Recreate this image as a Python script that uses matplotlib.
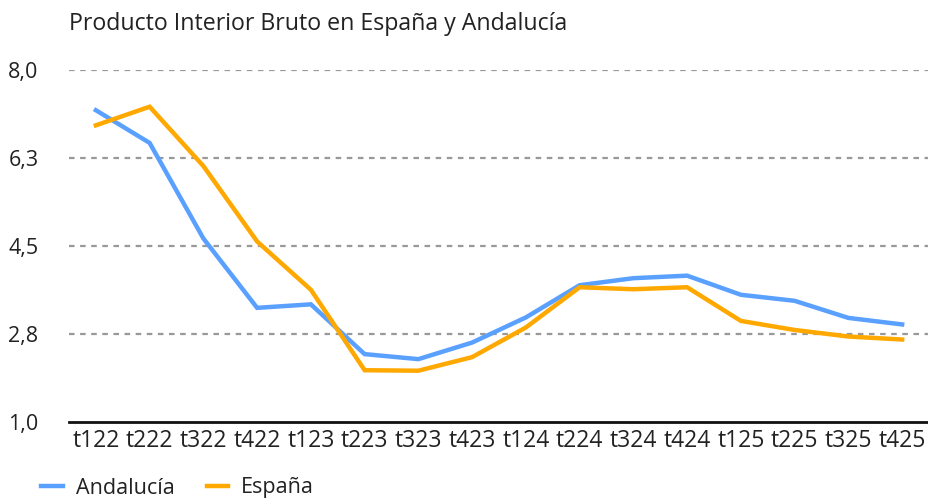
import matplotlib.pyplot as plt
from matplotlib.ticker import FixedLocator

plt.rcParams["font.family"] = ["Open Sans", "DejaVu Sans"]

quarters = ["t122", "t222", "t322", "t422", "t123", "t223", "t323", "t423",
            "t124", "t224", "t324", "t424", "t125", "t225", "t325", "t425"]
andalucia = [7.20, 6.55, 4.65, 3.27, 3.34, 2.35, 2.25, 2.58,
             3.08, 3.72, 3.86, 3.91, 3.53, 3.41, 3.07, 2.94]
espana = [6.90, 7.27, 6.09, 4.59, 3.63, 2.03, 2.02, 2.29,
          2.88, 3.68, 3.64, 3.68, 3.01, 2.83, 2.70, 2.64]
y_ticks = [1.0, 2.75, 4.5, 6.25, 8.0]
y_tick_labels = ["1,0", "2,8", "4,5", "6,3", "8,0"]

fig = plt.figure(figsize=(9.29, 5.0), dpi=100)
ax = fig.add_axes([69 / 929, 78 / 500, 860 / 929, 352 / 500])

x = range(len(quarters))
ax.plot(x, andalucia, color="#5AA0FF", linewidth=3.2, label="Andalucía",
        solid_joinstyle="miter", zorder=3)
ax.plot(x, espana, color="#FFA800", linewidth=3.2, label="España",
        solid_joinstyle="miter", zorder=3)

ax.set_xlim(-0.5, len(quarters) - 0.5)
ax.set_ylim(1.0, 8.0)
ax.yaxis.set_major_locator(FixedLocator(y_ticks))
ax.set_yticklabels(y_tick_labels)
ax.set_xticks(list(x), quarters)

for yv in y_ticks[1:]:
    ax.axhline(yv, color="#999999", linewidth=1.6, linestyle=(0, (2.5, 2.5)), zorder=1)

for side in ["top", "right", "left"]:
    ax.spines[side].set_visible(False)
ax.spines["bottom"].set_color("#111111")
ax.spines["bottom"].set_linewidth(2.0)
ax.tick_params(axis="x", length=0, labelsize=16.5, labelcolor="#222222", pad=5)
ax.tick_params(axis="y", length=0, labelsize=15.5, labelcolor="#222222", pad=22)

fig.text(69 / 929, 1 - 24 / 500, "Producto Interior Bruto en España y Andalucía",
         fontsize=16.7, color="#222222", ha="left", va="center")

leg = fig.legend(loc="center left", bbox_to_anchor=(22 / 929, 1 - 488 / 500),
                 ncol=2, frameon=False, fontsize=15.5, handlelength=1.0,
                 handletextpad=0.6, columnspacing=1.5, labelcolor="#222222")

fig.savefig("out.png", dpi=100, facecolor="white")
